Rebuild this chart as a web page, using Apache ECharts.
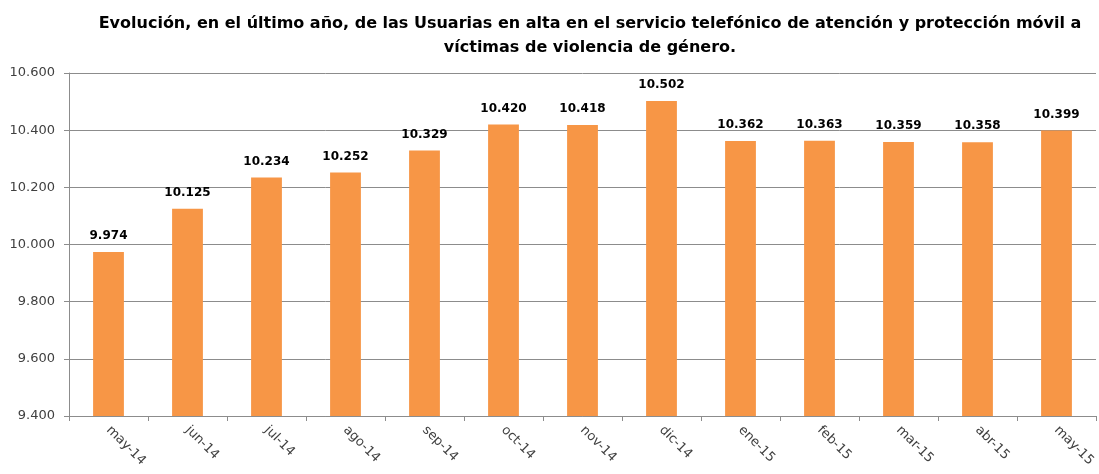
<!DOCTYPE html>
<html>
<head>
<meta charset="utf-8">
<script src="https://cdn.jsdelivr.net/npm/echarts@6/dist/echarts.min.js"></script>
<style>
  html, body { margin: 0; padding: 0; background: #fff; }
  #chart { width: 1099px; height: 474px; }
</style>
</head>
<body>
<div id="chart"></div>
<script>
// datos
var meses = ['may-14', 'jun-14', 'jul-14', 'ago-14', 'sep-14', 'oct-14', 'nov-14',
             'dic-14', 'ene-15', 'feb-15', 'mar-15', 'abr-15', 'may-15'];
var usuarias = [9974, 10125, 10234, 10252, 10329, 10420, 10418,
                10502, 10362, 10363, 10359, 10358, 10399];
var ejeMin = 9400;
var ejeMax = 10600;
var ejePaso = 200;

// separador de miles con punto
function miles(v) {
    return String(v).replace(/\B(?=(\d{3})+(?!\d))/g, '.');
}

var fuente = 'DejaVu Sans';

var chart = echarts.init(document.getElementById('chart'));
chart.setOption({
    animation: false,
    title: {
        text: 'Evolución, en el último año, de las Usuarias en alta en el servicio telefónico de atención y protección móvil a\nvíctimas de violencia de género.',
        left: 585,
        top: 7,
        textAlign: 'center',
        textStyle: {
            fontFamily: fuente,
            fontWeight: 'bold',
            fontSize: 16,
            lineHeight: 24,
            color: '#000'
        }
    },
    grid: {
        left: 69,
        right: 3,
        top: 73,
        bottom: 58,
        containLabel: false
    },
    xAxis: {
        type: 'category',
        data: meses,
        axisLine: { lineStyle: { color: '#8c8c8c', width: 1 } },
        axisTick: { show: true, length: 5, lineStyle: { color: '#8c8c8c' } },
        axisLabel: {
            rotate: -45,
            interval: 0,
            margin: 12,
            fontFamily: fuente,
            fontSize: 13,
            color: '#404040'
        }
    },
    yAxis: {
        type: 'value',
        min: ejeMin,
        max: ejeMax,
        interval: ejePaso,
        axisLine: { show: true, lineStyle: { color: '#8c8c8c', width: 1 } },
        axisTick: { show: true, length: 5, lineStyle: { color: '#8c8c8c' } },
        splitLine: { lineStyle: { color: '#8c8c8c', width: 1 } },
        axisLabel: {
            formatter: miles,
            margin: 14,
            fontFamily: fuente,
            fontSize: 13,
            color: '#404040'
        }
    },
    series: [{
        name: 'Usuarias',
        type: 'bar',
        data: usuarias,
        barWidth: '39%',
        itemStyle: { color: '#F79646' },
        label: {
            show: true,
            position: 'top',
            distance: 10,
            formatter: function (p) { return miles(p.value); },
            fontFamily: fuente,
            fontWeight: 'bold',
            fontSize: 12,
            color: '#000'
        }
    }]
});
</script>
</body>
</html>
